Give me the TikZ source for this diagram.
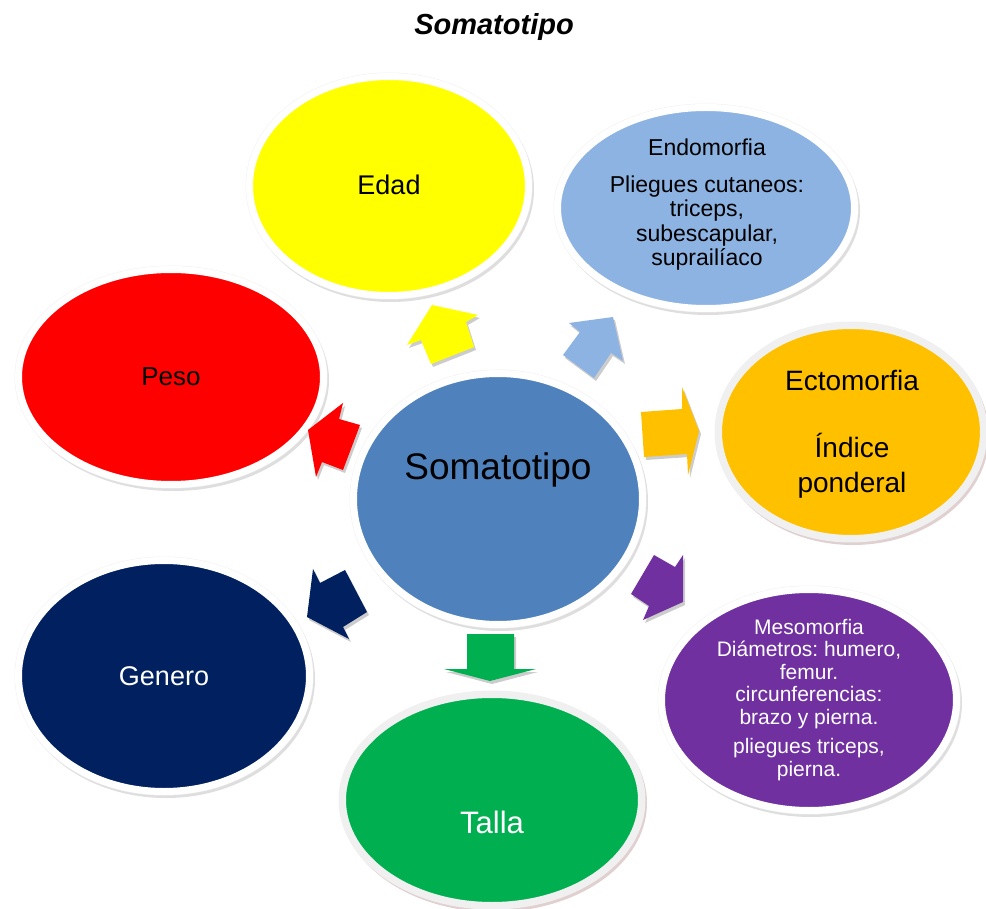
\documentclass[tikz,border=0pt]{standalone}
\usepackage{fontspec}
\setmainfont{Liberation Sans}
\usetikzlibrary{shapes.geometric}
\frenchspacing
\definecolor{cyel}{HTML}{FFFF00}
\definecolor{cendo}{HTML}{8DB3E2}
\definecolor{cred}{HTML}{FF0000}
\definecolor{corange}{HTML}{FFC000}
\definecolor{ccenter}{HTML}{4F81BD}
\definecolor{cnavy}{HTML}{002060}
\definecolor{cgreen}{HTML}{00B050}
\definecolor{cpurple}{HTML}{7030A0}
\definecolor{shgray}{HTML}{A0A0A0}
\definecolor{shbrown}{HTML}{A87878}
\definecolor{ringgray}{HTML}{F0F0F0}
\newcommand\blockarrow[2]{%
  \fill[black,opacity=.2,shift={(2,3)}] #2 -- cycle;
  \fill[#1] #2 -- cycle;}
\begin{document}
\begin{tikzpicture}[x=1pt,y=-1pt,
  bubble/.style n args={5}{ellipse, inner sep=0pt,
    minimum width=#1, minimum height=#2, fill=#3, draw=#4, line width=7pt,
    preaction={draw=#5, fill=#5, opacity=.35, line width=7pt,
      transform canvas={shift={(2pt,-3pt)}}},
    preaction={draw=black!6, line width=8pt}},
  lbl/.style={inner sep=0pt, align=center}]
\useasboundingbox (0,0) rectangle (986,909);

% outer bubbles
\node[bubble={279pt}{219pt}{cyel}{white}{shgray}] (edad) at (389,186) {};
\node[bubble={297pt}{201pt}{cendo}{white}{shgray}] (endo) at (706,208) {};
\node[bubble={305pt}{215pt}{cred}{white}{shgray}] (peso) at (171,377) {};
\node[bubble={265pt}{213pt}{corange}{ringgray}{shbrown}] (ecto) at (851,432) {};
\node[bubble={291pt}{231pt}{cnavy}{white}{shgray}] (genero) at (164,676) {};
\node[bubble={299pt}{211pt}{cgreen}{ringgray}{shbrown}] (talla) at (492,800) {};
\node[bubble={295pt}{221pt}{cpurple}{white}{shgray}] (meso) at (809,700) {};

% arrows
\blockarrow{cyel}{(432,305) -- (478,315) -- (466,322) -- (474,347) -- (431,364) -- (421,340) -- (407,345)}
\blockarrow{cendo}{(613,317) -- (623,361) -- (611,353) -- (594,378) -- (563,355) -- (580,332) -- (569,323)}
\blockarrow{cred}{(308,430) -- (343,403) -- (339,419) -- (360,425) -- (343,470) -- (322,462) -- (316,477)}
\blockarrow{corange}{(641,412) -- (682,409) -- (682,387) -- (699,431) -- (688,475) -- (687,454) -- (644,457)}
\blockarrow{cnavy}{(307,617) -- (313,569) -- (320,583) -- (345,570) -- (367,612) -- (343,627) -- (349,639)}
\blockarrow{cgreen}{(467,634) -- (514,634) -- (514,669) -- (536,669) -- (490,681) -- (444,669) -- (467,669)}
\blockarrow{cpurple}{(683,555) -- (675,567) -- (654,555) -- (631,594) -- (649,606) -- (643,620) -- (683,602)}

% centre
\node[bubble={289pt}{251pt}{ccenter}{white}{shgray}] (centro) at (498,499) {};

% texts
\node[lbl, font=\fontsize{29}{34}\selectfont\bfseries\itshape] (titulo) at (494,27) {Somatotipo};
\node[lbl, font=\fontsize{27}{32}\selectfont] (tedad) at (389,185) {Edad};
\node[lbl, font=\fontsize{23}{24.5}\selectfont] (tendo) at (707,205) {Endomorfia\\[12pt]Pliegues cutaneos:\\triceps,\\subescapular,\\suprailíaco};
\node[lbl, font=\fontsize{26}{31}\selectfont] (tpeso) at (171,377) {Peso};
\node[lbl, font=\fontsize{28}{35}\selectfont] (tecto) at (852,434) {Ectomorfia\\[32pt]Índice\\ponderal};
\node[lbl, font=\fontsize{37}{44}\selectfont] (tcentro) at (498,470) {Somatotipo};
\node[lbl, text=white, font=\fontsize{27}{32}\selectfont] (tgenero) at (164,676) {Genero};
\node[lbl, text=white, font=\fontsize{31}{37}\selectfont] (ttalla) at (492,822) {Talla};
\node[lbl, text=white, font=\fontsize{21}{22.5}\selectfont] (tmeso) at (809,700) {Mesomorfia\\Diámetros: humero,\\femur.\\circunferencias:\\brazo y pierna.\\[7pt]pliegues triceps,\\pierna.};
\end{tikzpicture}
\end{document}
